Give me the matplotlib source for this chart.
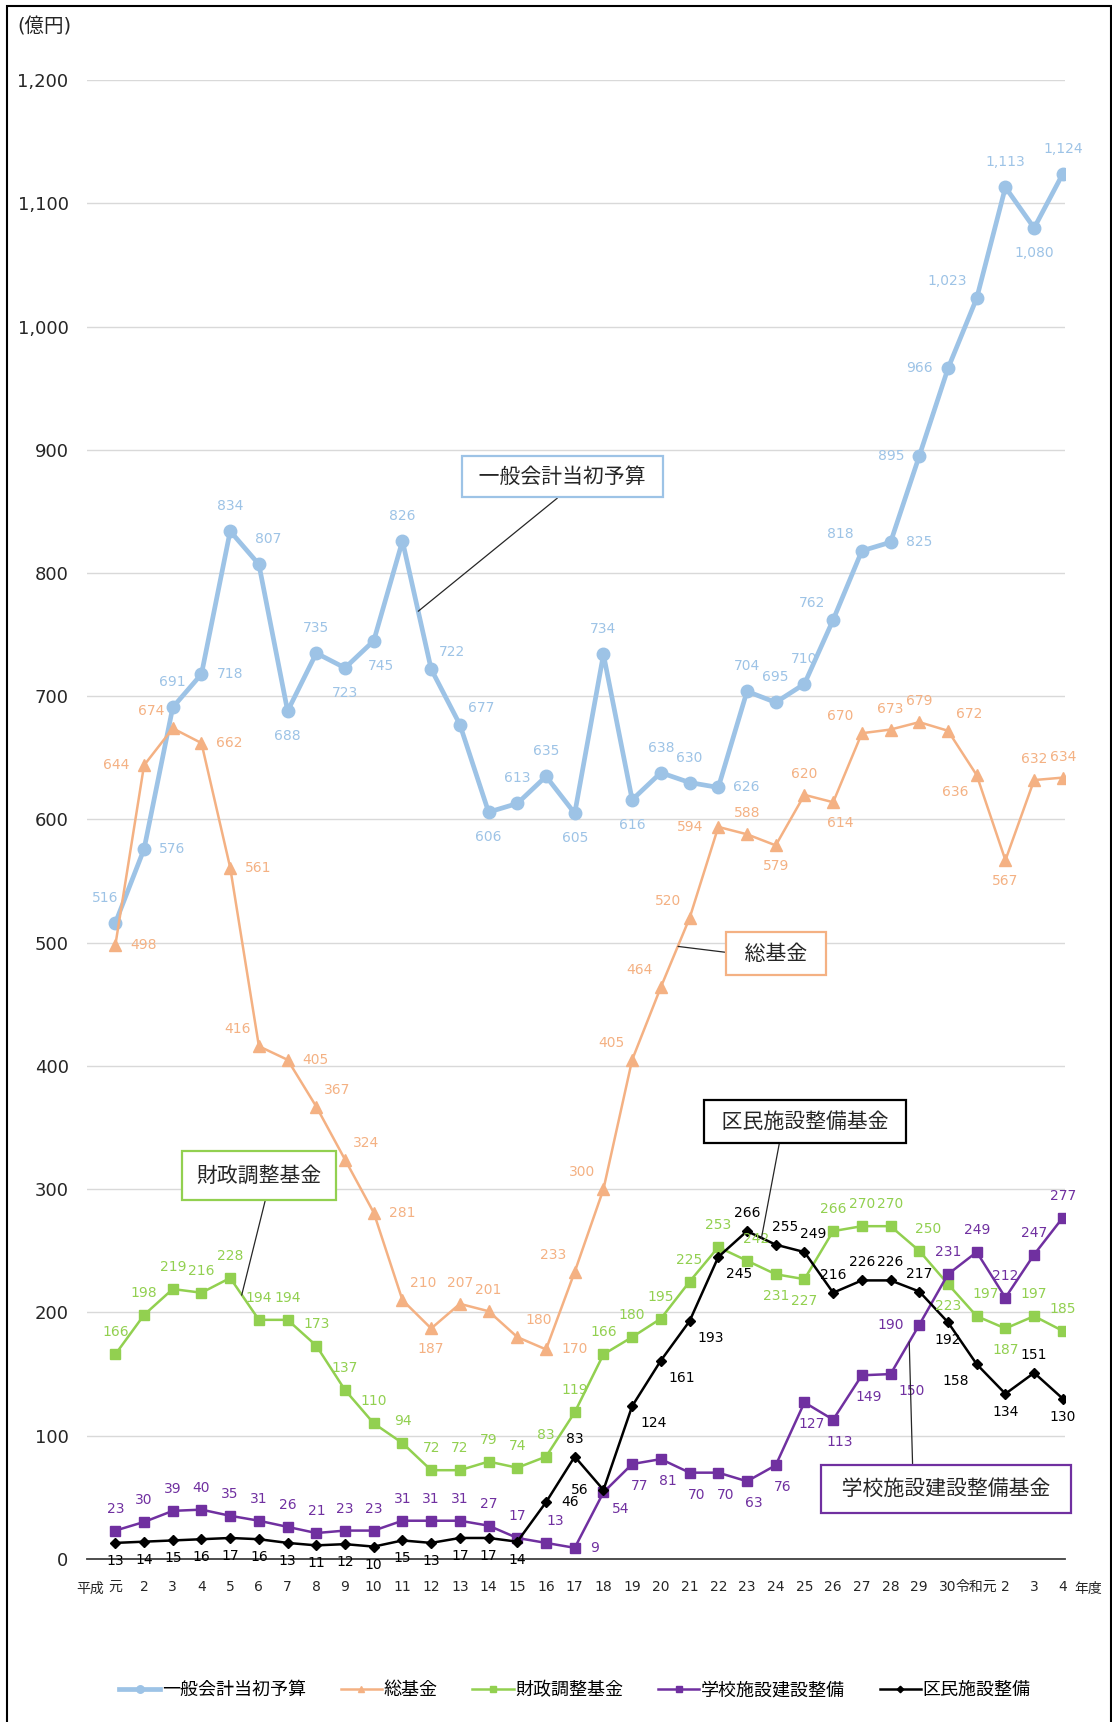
import matplotlib.pyplot as plt
from matplotlib.patches import Rectangle

plt.rcParams['font.family'] = ['DejaVu Sans', 'Noto Sans CJK JP']

# 年度 (平成元年度 ～ 令和4年度)
years = ['元', '2', '3', '4', '5', '6', '7', '8', '9', '10',
         '11', '12', '13', '14', '15', '16', '17', '18', '19', '20',
         '21', '22', '23', '24', '25', '26', '27', '28', '29', '30',
         '令和元', '2', '3', '4']

# 億円
general = [516, 576, 691, 718, 834, 807, 688, 735, 723, 745,
           826, 722, 677, 606, 613, 635, 605, 734, 616, 638,
           630, 626, 704, 695, 710, 762, 818, 825, 895, 966,
           1023, 1113, 1080, 1124]
total_fund = [498, 644, 674, 662, 561, 416, 405, 367, 324, 281,
              210, 187, 207, 201, 180, 170, 233, 300, 405, 464,
              520, 594, 588, 579, 620, 614, 670, 673, 679, 672,
              636, 567, 632, 634]
fiscal_fund = [166, 198, 219, 216, 228, 194, 194, 173, 137, 110,
               94, 72, 72, 79, 74, 83, 119, 166, 180, 195,
               225, 253, 242, 231, 227, 266, 270, 270, 250, 223,
               197, 187, 197, 185]
school_fund = [23, 30, 39, 40, 35, 31, 26, 21, 23, 23,
               31, 31, 31, 27, 17, 13, 9, 54, 77, 81,
               70, 70, 63, 76, 127, 113, 149, 150, 190, 231,
               249, 212, 247, 277]
civic_fund = [13, 14, 15, 16, 17, 16, 13, 11, 12, 10,
              15, 13, 17, 17, 14, 46, 83, 56, 124, 161,
              193, 245, 266, 255, 249, 216, 226, 226, 217, 192,
              158, 134, 151, 130]

# where each data label sits relative to its point
pos_general = ['al', 'r', 'a', 'r', 'a', 'ar', 'b', 'a', 'b', 'bs',
               'a', 'ur', 'ur', 'b', 'a', 'a', 'b', 'a', 'b', 'a',
               'a', 'r', 'a', 'a', 'a', 'ul', 'ul', 'r', 'l', 'l',
               'ul', 'a', 'b', 'a']
pos_total = ['r', 'l', 'ul', 'r', 'r', 'ul', 'r', 'ur', 'ur', 'r',
             'ur', 'b', 'a', 'a', 'ur', 'r', 'ul', 'ul', 'ul', 'ul',
             'ul', 'l', 'a', 'b', 'a', 'bs', 'ul', 'a', 'a', 'ur',
             'bl', 'b', 'a', 'a']
pos_fiscal = ['a'] * 22 + ['ar', 'b', 'b', 'a', 'a', 'a', 'ar', 'b', 'ar', 'b', 'a', 'a']
pos_school = ['a'] * 15 + ['ar', 'r', 'br', 'bs', 'bs', 'bs', 'bs', 'bs', 'bs', 'bs',
                           'bs', 'bs', 'br', 'l', 'a', 'a', 'a', 'a', 'a']
pos_civic = ['b'] * 15 + ['r', 'a', 'l', 'br', 'br', 'br', 'br', 'a', 'ar', 'ar',
                          'a', 'a', 'a', 'a', 'b', 'bl', 'b', 'a', 'b']

C_BLUE = '#9DC3E6'
C_ORANGE = '#F4B183'
C_GREEN = '#92D050'
C_PURPLE = '#7030A0'
C_BLACK = '#000000'

series = [
    # values, legend name, colour, marker, size, width, label pos, label gap
    (general, '一般会計当初予算', C_BLUE, 'o', 9, 3.4, pos_general, 25),
    (total_fund, '総基金', C_ORANGE, '^', 8, 1.8, pos_total, 21),
    (fiscal_fund, '財政調整基金', C_GREEN, 's', 7.5, 1.8, pos_fiscal, 22),
    (school_fund, '学校施設建設整備', C_PURPLE, 's', 7.5, 1.8, pos_school, 22),
    (civic_fund, '区民施設整備', C_BLACK, 'D', 5.5, 1.8, pos_civic, 18),
]


def offset(code, text, gap):
    n = len(text)
    side = 15 + 4.4 * n
    diag = 8 + 4.4 * n
    return {'a': (0, gap), 'b': (0, -gap), 'l': (-side, 0), 'r': (side, 0),
            'ar': (9, gap), 'al': (-10, gap), 'bs': (7, -gap),
            'ul': (-diag, 17), 'ur': (diag, 17),
            'bl': (-diag, -17), 'br': (diag, -17)}[code]


fig = plt.figure(figsize=(11.12, 17.22), dpi=100)
ax = fig.add_axes([0.0779, 0.0947, 0.8797, 0.8588])

x = list(range(len(years)))
for vals, name, color, marker, ms, lw, pos, gap in series:
    ax.plot(x, vals, color=color, lw=lw, marker=marker, ms=ms,
            mfc=color, mec=color, label=name, zorder=3)

for vals, name, color, marker, ms, lw, pos, gap in series:
    for xi, v, p in zip(x, vals, pos):
        txt = f'{v:,}'
        ax.annotate(txt, (xi, v), xytext=offset(p, txt, gap),
                    textcoords='offset pixels', ha='center', va='center',
                    fontsize=10, color=color, zorder=5)

ax.set_xlim(-1, 33.07)
ax.set_ylim(0, 1200)
ax.set_yticks(range(0, 1201, 100))
ax.set_yticklabels([f'{v:,}' for v in range(0, 1201, 100)])
ax.set_xticks(x)
ax.set_xticklabels(years)
for lab in ax.get_xticklabels():
    if lab.get_text() == '令和元':
        lab.set_fontsize(6.5)

ax.yaxis.grid(True, color='#D9D9D9', lw=1)
ax.set_axisbelow(True)
for s in ['left', 'top', 'right']:
    ax.spines[s].set_visible(False)
ax.spines['bottom'].set_color('#404040')
ax.spines['bottom'].set_linewidth(1.3)
ax.tick_params(axis='y', length=0, pad=13, labelsize=13, labelcolor='#262626')
ax.tick_params(axis='x', length=0, pad=15, labelsize=10, labelcolor='#262626')

ax.annotate('平成', (-0.4, 0), xycoords=('data', 'axes fraction'),
            xytext=(0, -30), textcoords='offset pixels', ha='right', va='center',
            fontsize=10, color='#262626')
ax.annotate('年度', (33.9, 0), xycoords=('data', 'axes fraction'),
            xytext=(0, -30), textcoords='offset pixels', ha='center', va='center',
            fontsize=10, color='#262626', annotation_clip=False)

fig.text(17 / 1112, 1 - 27 / 1722, '(億円)', ha='left', va='center',
         fontsize=14, color='#262626')

# callout boxes: text, edge colour, box centre, line tip, line start, box pad
callouts = [
    (' 一般会計当初予算 ', C_BLUE, (15.56, 878), (10.55, 769), (0.55, 0), 0.5),
    (' 総基金 ', C_ORANGE, (23.01, 491), (19.6, 497), (0, 0.5), 0.56),
    ('財政調整基金', C_GREEN, (5.0, 311), (4.4, 214), (0.58, 0), 0.7),
    (' 区民施設整備基金 ', C_BLACK, (24.02, 355), (22.5, 260), (0.37, 0), 0.54),
    (' 学校施設建設整備基金 ', C_PURPLE, (28.94, 57), (27.65, 176), (0.35, 1), 0.68),
]
for text, color, tpos, tip, rel, pad in callouts:
    ax.annotate(text, tip, xytext=tpos, textcoords='data',
                ha='center', va='center', fontsize=15, color='#262626',
                bbox=dict(boxstyle=f'square,pad={pad}', fc='white', ec=color, lw=1.6),
                arrowprops=dict(arrowstyle='-', color='#262626', lw=0.9,
                                shrinkA=0, shrinkB=0, relpos=rel),
                zorder=6, annotation_clip=False)

handles, labels = ax.get_legend_handles_labels()
fig.legend(handles, labels, loc='center', bbox_to_anchor=(0.517, 1 - 1690 / 1722),
           ncol=5, frameon=False, fontsize=13, handlelength=2.3,
           handletextpad=0.1, columnspacing=1.9, markerscale=0.6)

fig.patches.append(Rectangle((7 / 1112, -0.01), 1104 / 1112, 1 - 6 / 1722 + 0.01,
                             transform=fig.transFigure, fill=False,
                             ec='black', lw=1.5))

fig.savefig('out.png', dpi=100)
